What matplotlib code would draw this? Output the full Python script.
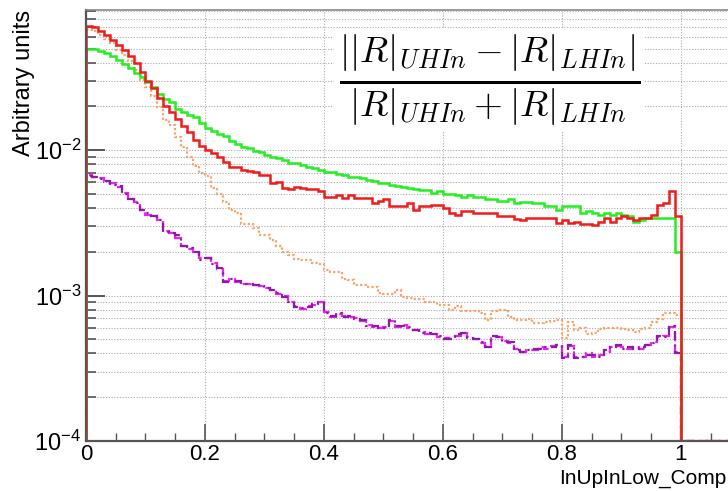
import numpy as np
import matplotlib
matplotlib.use("Agg")
import matplotlib.pyplot as plt
from matplotlib.ticker import MultipleLocator, LogLocator

plt.rcParams['font.family'] = ['Liberation Sans Narrow', 'Liberation Sans', 'DejaVu Sans']

# bin contents, 100 bins of width 0.01 on [0, 1]
red_vals = [0.0714, 0.0703, 0.066, 0.062, 0.057, 0.0532, 0.0492, 0.0445, 0.040, 0.0344,
            0.0301, 0.0266, 0.023, 0.0201, 0.0183, 0.0164, 0.0146, 0.0134, 0.0117, 0.0107,
            0.0100, 0.0095, 0.0090, 0.0083, 0.0077, 0.0077, 0.0073, 0.0072, 0.0071, 0.0067,
            0.0067, 0.0059, 0.0060, 0.0055, 0.0054, 0.0056, 0.0055, 0.0054, 0.0054, 0.0052,
            0.0048, 0.0048, 0.0049, 0.0047, 0.0049, 0.0047, 0.0047, 0.0047, 0.0043, 0.0045,
            0.0046, 0.0041, 0.0041, 0.0041, 0.0043, 0.0039, 0.0041, 0.0041, 0.0042, 0.0042,
            0.0040, 0.0037, 0.00358, 0.0038, 0.0038, 0.00367, 0.00367, 0.00367, 0.00367, 0.00352,
            0.00352, 0.00352, 0.00334, 0.0033, 0.0034, 0.0034, 0.0034, 0.0034, 0.0034, 0.00317,
            0.0033, 0.00317, 0.0032, 0.0031, 0.0031, 0.00305, 0.0032, 0.0034, 0.0032, 0.0034,
            0.0035, 0.0034, 0.0033, 0.0034, 0.0034, 0.0036, 0.0042, 0.0043, 0.0052, 0.0035]

green_vals = [0.0497, 0.0497, 0.0478, 0.0463, 0.0445, 0.0416, 0.039, 0.0365, 0.034, 0.0319,
              0.0295, 0.027, 0.0243, 0.0226, 0.0213, 0.0193, 0.0183, 0.0174, 0.0168, 0.0153,
              0.0141, 0.0135, 0.0130, 0.0125, 0.0116, 0.0111, 0.0105, 0.0103, 0.0099, 0.0097,
              0.0092, 0.0090, 0.0088, 0.0085, 0.0082, 0.0081, 0.0079, 0.0076, 0.0075, 0.0073,
              0.0071, 0.0071, 0.0069, 0.0067, 0.0065, 0.0065, 0.0064, 0.0062, 0.0061, 0.0059,
              0.0059, 0.0058, 0.0057, 0.0056, 0.0055, 0.0054, 0.0053, 0.0053, 0.0051, 0.0052,
              0.0050, 0.0050, 0.0049, 0.0048, 0.0049, 0.0048, 0.0048, 0.0046, 0.0046, 0.0045,
              0.0045, 0.0046, 0.0043, 0.0044, 0.0044, 0.0043, 0.0043, 0.0041, 0.0041, 0.0039,
              0.0041, 0.0041, 0.0041, 0.0037, 0.0038, 0.0037, 0.0036, 0.0037, 0.0036, 0.0037,
              0.0036, 0.0035, 0.0032, 0.0033, 0.0034, 0.0034, 0.0034, 0.0034, 0.0034, 0.0020]

orange_vals = [0.0675, 0.066, 0.0618, 0.0584, 0.0546, 0.0492, 0.0449, 0.0411, 0.0355, 0.0303,
               0.0270, 0.0235, 0.0197, 0.0162, 0.0149, 0.0123, 0.0105, 0.0090, 0.0078, 0.0070,
               0.0066, 0.0055, 0.0050, 0.0044, 0.0039, 0.0037, 0.0031, 0.0031, 0.0029, 0.0026,
               0.0026, 0.0024, 0.0022, 0.0020, 0.0019, 0.00178, 0.00176, 0.00176, 0.00168, 0.00165,
               0.0015, 0.00145, 0.00146, 0.0013, 0.00128, 0.00118, 0.00118, 0.00115, 0.00115, 0.00104,
               0.00102, 0.00102, 0.0011, 0.00098, 0.00097, 0.00095, 0.00095, 0.0009, 0.0009, 0.00086,
               0.00086, 0.0008, 0.00085, 0.00078, 0.00078, 0.00078, 0.00076, 0.00068, 0.00078, 0.00079,
               0.00079, 0.00071, 0.00068, 0.00068, 0.00069, 0.00065, 0.00065, 0.00066, 0.00067, 0.00068,
               0.00051, 0.00066, 0.00058, 0.0006, 0.00054, 0.00055, 0.00059, 0.0006, 0.0006, 0.0006,
               0.00059, 0.00058, 0.00056, 0.00059, 0.0006, 0.00066, 0.00069, 0.00076, 0.00076, 0.00074]

purple_vals = [0.0066, 0.0065, 0.0063, 0.0061, 0.0058, 0.0057, 0.0050, 0.0046, 0.0043, 0.0039,
               0.0037, 0.0035, 0.0033, 0.00274, 0.0027, 0.0026, 0.0022, 0.00214, 0.0020, 0.00177,
               0.0018, 0.00165, 0.00154, 0.00124, 0.0013, 0.00125, 0.0012, 0.00121, 0.00118, 0.00117,
               0.00113, 0.0011, 0.00104, 0.00098, 0.0009, 0.00084, 0.00082, 0.00084, 0.00087, 0.00089,
               0.00076, 0.00072, 0.00076, 0.00071, 0.00072, 0.00069, 0.00068, 0.00062, 0.00062, 0.0006,
               0.0006, 0.00068, 0.00062, 0.00062, 0.00061, 0.00058, 0.00055, 0.00055, 0.00054, 0.00053,
               0.0005, 0.0005, 0.00054, 0.00055, 0.00051, 0.0005, 0.00048, 0.00044, 0.00053, 0.00052,
               0.00048, 0.00048, 0.00042, 0.00041, 0.00042, 0.00043, 0.00043, 0.00044, 0.00044, 0.00046,
               0.00037, 0.00046, 0.00037, 0.00038, 0.00039, 0.00039, 0.00038, 0.00042, 0.00044, 0.00046,
               0.00043, 0.00044, 0.00043, 0.00044, 0.00046, 0.00047, 0.00053, 0.00052, 0.00062, 0.0004]

magenta_vals = [0.0067, 0.0065, 0.0064, 0.0060, 0.0059, 0.0056, 0.0051, 0.0046, 0.0044, 0.0039,
                0.0036, 0.0035, 0.0033, 0.0028, 0.0027, 0.0025, 0.0022, 0.0021, 0.0020, 0.0018,
                0.0018, 0.00168, 0.00152, 0.00126, 0.0013, 0.00124, 0.00121, 0.0012, 0.00119, 0.00116,
                0.00112, 0.0011, 0.00103, 0.00099, 0.00091, 0.00085, 0.00081, 0.00085, 0.00086, 0.0009,
                0.00077, 0.00071, 0.00075, 0.00072, 0.00071, 0.0007, 0.00067, 0.00063, 0.00061, 0.0006,
                0.00061, 0.00067, 0.00061, 0.00063, 0.0006, 0.00058, 0.00056, 0.00054, 0.00054, 0.00052,
                0.00051, 0.0005, 0.00053, 0.00055, 0.00052, 0.0005, 0.00047, 0.00045, 0.00052, 0.00052,
                0.00049, 0.00047, 0.00043, 0.00041, 0.00042, 0.00042, 0.00044, 0.00043, 0.00045, 0.00046,
                0.00038, 0.00045, 0.00038, 0.00038, 0.0004, 0.00038, 0.00039, 0.00041, 0.00044, 0.00045,
                0.00044, 0.00043, 0.00044, 0.00043, 0.00046, 0.00048, 0.00052, 0.00053, 0.00061, 0.00041]

x_label = 'InUpInLow_Comp'
y_label = 'Arbitrary units'
formula = r'$\frac{||R|_{UHIn}-|R|_{LHIn}|}{|R|_{UHIn}+|R|_{LHIn}}$'

ymin, ymax = 1e-4, 0.092
xmax = 1.079

# histogram axis runs past 1 with empty bins
edges = np.round(np.arange(0, 1.101, 0.01), 2)


def padded(vals):
    v = np.concatenate([np.array(vals), np.zeros(len(edges) - 1 - len(vals))])
    return np.maximum(v, ymin)  # empty bins drawn on the frame, like ROOT


fig = plt.figure(figsize=(7.28, 4.91), dpi=100)
ax = fig.add_axes([86 / 728, 50 / 491, 1 - 86 / 728, 431 / 491])
ax.set_yscale('log')

ax.stairs(padded(orange_vals), edges, color='#f4a46c', lw=1.6, ls=(0, (1, 1)))
ax.stairs(padded(magenta_vals), edges, color='#ee22ee', lw=1.6, ls=(0, (4, 2)))
ax.stairs(padded(purple_vals), edges, color='#8b1ca8', lw=1.6, ls=(0, (4, 2, 1, 2)))
ax.stairs(padded(green_vals), edges, color='#22ee22', lw=1.8)
ax.stairs(padded(red_vals), edges, color='#ee1c1c', lw=1.8)

ax.set_xlim(0, xmax)
ax.set_ylim(ymin, ymax)

ax.xaxis.set_major_locator(MultipleLocator(0.2))
ax.xaxis.set_minor_locator(MultipleLocator(0.05))
ax.xaxis.set_major_formatter(plt.FuncFormatter(lambda v, p: f'{v:g}'))
ax.yaxis.set_major_locator(LogLocator(base=10))
ax.yaxis.set_minor_locator(LogLocator(base=10, subs=np.arange(2, 10)))
ax.yaxis.set_minor_formatter(plt.NullFormatter())

ax.tick_params(which='both', direction='in', colors='#555555', labelcolor='black', labelsize=17)
ax.tick_params(axis='y', which='major', length=14, width=1.4)
ax.tick_params(axis='y', which='minor', length=7, width=1.2)
ax.tick_params(axis='x', which='major', length=12, width=1.2, pad=2, labelsize=16)
ax.tick_params(axis='x', which='minor', length=6, width=1.0)

ax.grid(True, axis='y', which='both', ls=(0, (1, 1.5)), color='#aaaaaa', lw=0.8)
ax.grid(True, axis='x', which='major', ls=(0, (1, 1.5)), color='#aaaaaa', lw=0.8)
ax.set_axisbelow(True)

for side in ['left', 'bottom']:
    ax.spines[side].set_color('#555555')
    ax.spines[side].set_linewidth(1.6)
ax.spines['top'].set_color('#888888')
ax.spines['top'].set_linewidth(1.2)
ax.spines['right'].set_visible(False)

ax.set_xlabel(x_label, loc='right', fontsize=15)
ax.xaxis.set_label_coords(0.997, -0.064)
ax.set_ylabel(y_label, loc='top', fontsize=17)
ax.yaxis.set_label_coords(-0.079, 1.0)

ax.text(0.628, 0.838, formula, transform=ax.transAxes, fontsize=38, ha='center', va='center',
        math_fontfamily='cm', bbox=dict(facecolor='white', edgecolor='none', pad=3))

fig.savefig('out.png', dpi=100)
